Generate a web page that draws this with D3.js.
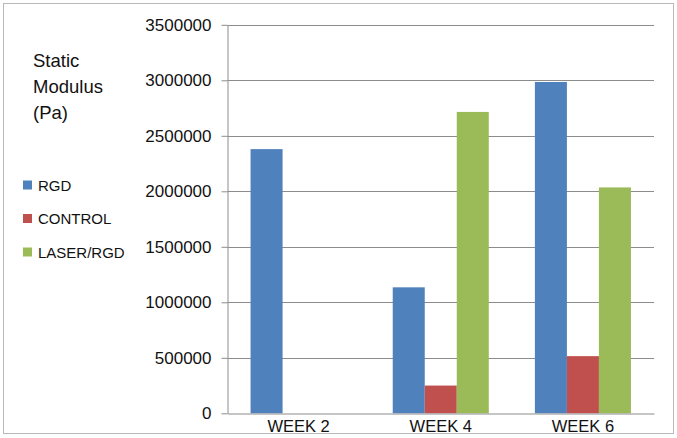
<!DOCTYPE html>
<html><head><meta charset="utf-8">
<script src="https://cdn.jsdelivr.net/npm/d3@7"></script>
<style>body{margin:0;background:#fff}svg{display:block}text{font-family:"Liberation Sans",Arial,sans-serif;fill:#111}</style>
</head><body>
<svg id="c" width="677" height="438"></svg>
<script>
const categories = ["WEEK 2","WEEK 4","WEEK 6"];
const seriesNames = ["RGD","CONTROL","LASER/RGD"];
const rgd = [2380000, 1135000, 2985000];
const control = [0, 250000, 515000];
const laserRgd = [0, 2715000, 2035000];
const yTicks = [0,500000,1000000,1500000,2000000,2500000,3000000,3500000];
const colors = ["#4F81BD","#C0504D","#9BBB59"];
const titleLines = ["Static","Modulus","(Pa)"];

const series = [rgd, control, laserRgd];
const svg = d3.select("#c");
svg.append("rect").attr("x",3.5).attr("y",3.5).attr("width",670).attr("height",430)
  .attr("fill","none").attr("stroke","#b8b8b8").attr("stroke-width",1);

const x0 = 227.5, x1 = 654, yTop = 24.8, yBot = 413.3;
const x = d3.scaleBand().domain(categories).range([x0,x1]).paddingInner(0).paddingOuter(0);
const y = d3.scaleLinear().domain([0,3500000]).range([yBot,yTop]);
const xs = d3.scaleBand().domain(seriesNames).range([0,x.bandwidth()]).paddingInner(0).paddingOuter(0.72);

// gridlines
svg.append("g").selectAll("line").data(yTicks.filter(d=>d>0)).join("line")
  .attr("x1",x0).attr("x2",x1).attr("y1",d=>Math.round(y(d))+0.5).attr("y2",d=>Math.round(y(d))+0.5)
  .attr("stroke","#8c8c8c").attr("stroke-width",1);

// bars
const g = svg.append("g");
series.forEach((vals,si)=>{
  g.selectAll(null).data(categories).join("rect")
    .attr("x",c=>x(c)+xs(seriesNames[si]))
    .attr("width",xs.bandwidth())
    .attr("y",(c,i)=>y(vals[i]))
    .attr("height",(c,i)=>yBot-y(vals[i]))
    .attr("fill",colors[si]);
});

// y axis
const ya = svg.append("g").attr("transform",`translate(${x0},0)`)
  .call(d3.axisLeft(y).tickValues(yTicks).tickFormat(d3.format("d")).tickSize(6).tickSizeOuter(0).tickPadding(10));
ya.select(".domain").attr("stroke","#8c8c8c");
ya.selectAll(".tick line").attr("stroke","#8c8c8c");
ya.selectAll(".tick text").attr("font-size",17).attr("font-family","Liberation Sans, Arial, sans-serif").attr("fill","#111");

// x axis
const xa = svg.append("g").attr("transform",`translate(0,${Math.round(yBot)+0.5})`)
  .call(d3.axisBottom(x).tickSize(0).tickPadding(7));
xa.select(".domain").attr("stroke","#8c8c8c");
xa.selectAll(".tick text").attr("font-size",16.5).attr("font-family","Liberation Sans, Arial, sans-serif").attr("fill","#111");

// title
svg.append("g").selectAll("text").data(titleLines).join("text")
  .attr("x",33).attr("y",(d,i)=>67+i*26).attr("font-size",18.5).text(d=>d);

// legend
const lg = svg.append("g").selectAll("g").data(seriesNames).join("g")
  .attr("transform",(d,i)=>`translate(23,${185+i*33.5})`);
lg.append("rect").attr("x",0).attr("y",-4.5).attr("width",9).attr("height",9).attr("fill",(d,i)=>colors[i]);
lg.append("text").attr("x",15).attr("y",5.5).attr("font-size",15).text(d=>d);
</script>
</body></html>
